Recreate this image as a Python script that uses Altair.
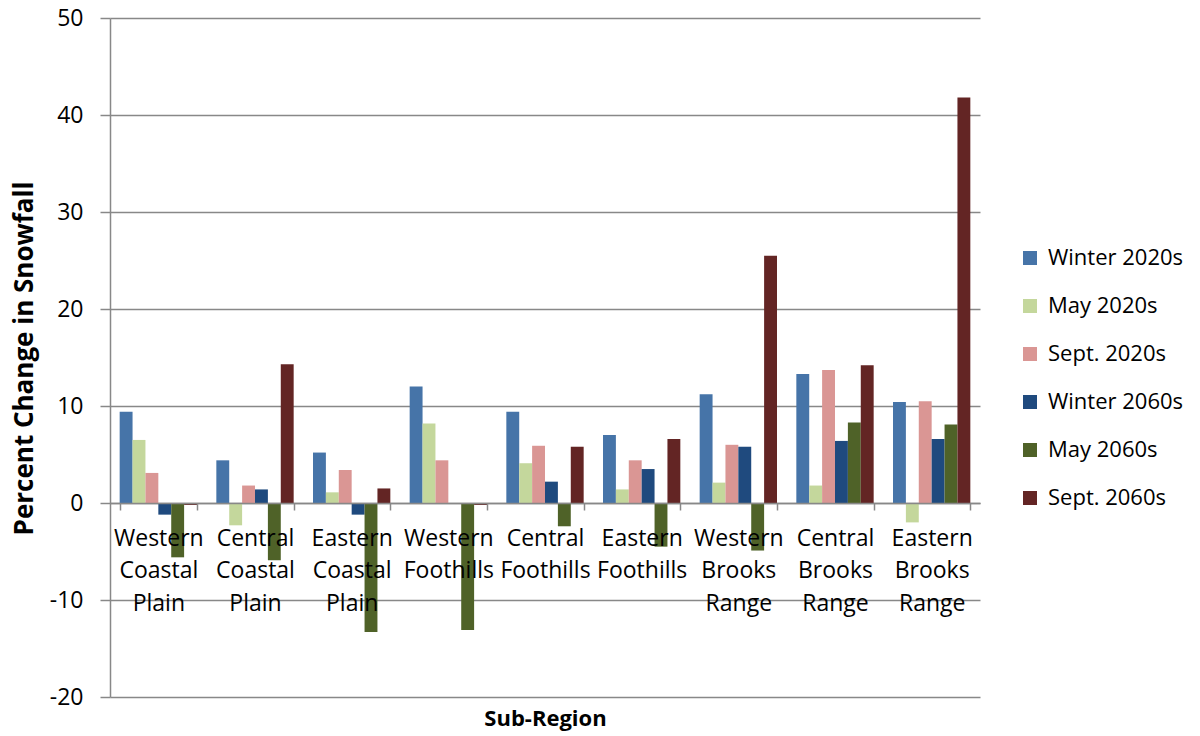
import altair as alt
import pandas as pd

regions = ["Western Coastal Plain", "Central Coastal Plain", "Eastern Coastal Plain",
           "Western Foothills", "Central Foothills", "Eastern Foothills",
           "Western Brooks Range", "Central Brooks Range", "Eastern Brooks Range"]
series = ["Winter 2020s", "May 2020s", "Sept. 2020s", "Winter 2060s", "May 2060s", "Sept. 2060s"]
colors = ["#4674A8", "#C4D79C", "#DA9694", "#1F4A7E", "#4F6228", "#632524"]

winter_2020 = [9.4, 4.4, 5.2, 12.0, 9.4, 7.0, 11.2, 13.3, 10.4]
may_2020 = [6.5, -2.3, 1.1, 8.2, 4.1, 1.4, 2.1, 1.8, -2.0]
sept_2020 = [3.1, 1.8, 3.4, 4.4, 5.9, 4.4, 6.0, 13.7, 10.5]
winter_2060 = [-1.2, 1.4, -1.2, -0.1, 2.2, 3.5, 5.8, 6.4, 6.6]
may_2060 = [-5.6, -5.9, -13.3, -13.1, -2.4, -4.5, -4.9, 8.3, 8.1]
sept_2060 = [-0.2, 14.3, 1.5, -0.2, 5.8, 6.6, 25.5, 14.2, 41.8]

values = [winter_2020, may_2020, sept_2020, winter_2060, may_2060, sept_2060]
rows = []
for s, vals in zip(series, values):
    for r, v in zip(regions, vals):
        rows.append({"region": r, "series": s, "value": v})
df = pd.DataFrame(rows)

FONT = "Open Sans"
GRID = "#888888"

chart = alt.Chart(df).mark_bar().encode(
    x=alt.X("region:N", sort=regions,
            scale=alt.Scale(paddingInner=0.2, paddingOuter=0.1),
            axis=alt.Axis(title="Sub-Region", offset=-194, zindex=1,
                          labelAngle=0, labelExpr="split(datum.label, ' ')",
                          labelFont=FONT, labelFontSize=23, labelColor="#000000",
                          labelLineHeight=32.5, labelBaseline="top", labelPadding=17,
                          tickBand="extent", tickSize=7, tickColor=GRID, tickWidth=1.5,
                          domainColor=GRID, domainWidth=1.5,
                          titleFont=FONT, titleFontSize=22, titleFontWeight="bold",
                          titleColor="#000000", titleY=215, titleBaseline="middle")),
    xOffset=alt.XOffset("series:N", sort=series,
                        scale=alt.Scale(paddingInner=0, paddingOuter=0)),
    y=alt.Y("value:Q", scale=alt.Scale(domain=[-20, 50], nice=False),
            axis=alt.Axis(title="Percent Change in Snowfall", values=list(range(-20, 51, 10)),
                          labelExpr="'' + datum.value",
                          grid=True, gridColor=GRID, gridWidth=1.5,
                          tickSize=10, tickColor=GRID, tickWidth=1.5,
                          domainColor=GRID, domainWidth=1.5,
                          labelFont=FONT, labelFontSize=23, labelColor="#000000",
                          labelPadding=17,
                          titleFont=FONT, titleFontSize=26, titleFontWeight="bold",
                          titleColor="#000000", titleX=-86, titleY=340,
                          titleAngle=-90, titleBaseline="middle", titleAlign="center")),
    color=alt.Color("series:N", sort=series,
                    scale=alt.Scale(domain=series, range=colors),
                    legend=alt.Legend(title=None, orient="none", legendX=909, legendY=229,
                                      symbolType="square", symbolSize=196,
                                      symbolStrokeWidth=0, labelFont=FONT,
                                      labelFontSize=22, labelColor="#000000",
                                      rowPadding=26, labelOffset=7)),
).properties(
    width=870, height=679,
    autosize=alt.AutoSizeParams(type="none"),
    padding={"left": 102, "top": 10, "right": 212, "bottom": 50},
).configure_view(stroke=None)

chart.save("out.html", embed_options={"renderer": "svg", "actions": False})
